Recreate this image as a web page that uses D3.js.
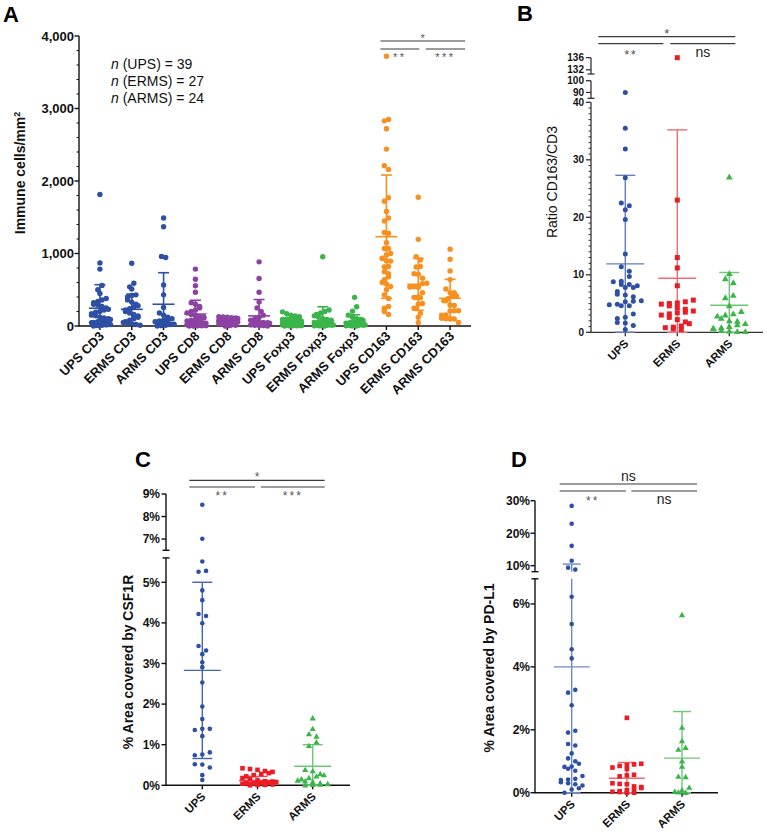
<!DOCTYPE html>
<html><head><meta charset="utf-8">
<script src="https://cdn.jsdelivr.net/npm/d3@7"></script>
<style>
body{margin:0;background:#fff;}
svg{display:block;font-family:"Liberation Sans",Arial,Helvetica,sans-serif;}
</style>
</head><body>
<svg id="c" width="767" height="833"></svg>
<script>
// ================= DATA =================
// Panel A – immune cells / mm²
const catsA = ["UPS CD3","ERMS CD3","ARMS CD3","UPS CD8","ERMS CD8","ARMS CD8","UPS Foxp3","ERMS Foxp3","ARMS Foxp3","UPS CD163","ERMS CD163","ARMS CD163"];
const upsCD3 = [1815,870,785,560,500,450,380,360,340,320,300,290,270,250,230,220,200,190,170,150,140,120,110,100,90,80,70,60,50,45,40,35,30,25,20,15,10,5,0];
const ermsCD3 = [865,590,540,510,430,420,400,360,330,300,280,260,240,220,200,180,160,140,120,100,80,60,50,40,30,20,10];
const armsCD3 = [1490,1370,960,945,565,430,255,180,150,120,100,90,80,70,60,50,40,35,30,25,20,10,5,0];
const upsCD8 = [785,645,555,465,320,300,270,250,220,200,180,160,150,130,120,110,100,90,80,70,60,55,50,45,40,35,30,25,20,18,15,12,10,8,5,3,2,1,0];
const ermsCD8 = [130,125,120,115,110,105,100,95,90,85,80,75,70,65,60,55,50,45,40,35,30,25,20,15,10,5,0];
const armsCD8 = [885,655,465,330,250,200,150,120,100,80,70,60,50,45,40,35,30,25,20,15,10,8,5,0];
const upsFoxp3 = [195,170,150,140,130,120,110,100,95,90,85,80,75,70,65,60,55,50,45,40,38,35,32,30,28,25,22,20,18,15,12,10,8,6,5,4,3,2,0];
const ermsFoxp3 = [955,220,200,180,160,140,120,100,90,80,70,60,50,45,40,35,30,25,20,15,12,10,8,5,3,2,0];
const armsFoxp3 = [395,265,205,150,120,100,90,80,70,60,50,40,35,30,25,20,15,12,10,8,5,3,2,0];
const upsCD163 = [3720,2850,2830,2720,2440,2210,2160,1770,1720,1580,1490,1450,1290,1280,1150,1070,1070,1000,980,935,930,900,895,820,815,750,720,680,640,600,580,545,500,430,380,270,245,200,160];
const ermsCD163 = [1775,1195,955,910,820,815,720,715,660,590,585,545,540,538,535,460,400,395,392,390,310,300,245,240,175,120,50];
const armsCD163 = [1060,920,760,640,510,460,458,415,412,378,350,348,290,282,212,210,208,152,150,106,100,97,95,50];
const meanA = [245,230,300,165,60,140,50,70,55,1232,575,382];
const sdA   = [325,210,435,190,40,225,45,195,100,850,358,262];
const ticksA = [0,1000,2000,3000,4000];
const nLines = [["UPS",39],["ERMS",27],["ARMS",24]];

// Panel B – ratio CD163/CD3
const groups = ["UPS","ERMS","ARMS"];
const ratioUPS = [90,35.5,31.9,26.9,22.5,22.0,21.3,19.6,13.6,11.4,10.6,9.7,8.9,8.8,8.3,8.3,8.1,7.8,7.8,7.1,6.6,6.5,6.2,5.5,5.4,5.3,4.9,4.8,4.6,4.6,3.2,2.6,2.4,1.7,1.6,1.2,0.5];
const ratioERMS = [136,23.0,13.0,11.2,8.1,5.6,5.3,5.1,5.0,4.9,4.6,4.3,4.0,3.7,3.5,3.4,3.2,3.0,2.6,2.2,1.8,1.5,1.1,0.9,0.8,0.6,0.5];
const ratioARMS = [27.0,10.2,9.3,8.6,6.4,6.0,4.6,3.6,3.2,3.0,2.8,2.4,2.0,1.9,1.5,1.3,1.0,0.8,0.7,0.6,0.3,0.2,0.1,0.1];
const meanB = [11.9,9.4,4.7];
const sdB   = [15.4,25.8,5.7];
const ticksB = [0,10,20,30,40,90,100,132,136];

// Panel C – % area covered by CSF1R
const csfUPS = [8.52,7.01,5.51,5.28,5.26,4.80,4.56,4.22,4.17,3.99,3.43,3.32,3.23,3.03,2.91,2.53,1.94,1.63,1.39,1.39,1.36,1.21,0.81,0.76,0.74,0.52,0.51,0.44,0.25,0.13];
const csfERMS = [0.42,0.40,0.38,0.35,0.33,0.30,0.28,0.25,0.22,0.18,0.15,0.12,0.10,0.09,0.08,0.07,0.06,0.05,0.05,0.04,0.03,0.03,0.02,0.02,0.01,0.01,0.00];
const csfARMS = [1.65,1.39,1.26,1.20,1.06,0.97,0.38,0.35,0.28,0.25,0.22,0.18,0.15,0.12,0.10,0.08,0.05,0.03,0.02,0.01,0.0];
const meanC = [2.83,0.12,0.47];
const sdC   = [2.17,0.10,0.53];
const ticksC = [0,1,2,3,4,5,7,8,9];

// Panel D – % area covered by PD-L1
const pdUPS = [28.4,22.9,16.1,11.5,9.4,8.8,6.23,5.36,4.56,4.27,3.27,3.18,2.78,1.97,1.91,1.55,1.50,1.25,1.09,1.00,0.92,0.83,0.82,0.76,0.70,0.53,0.44,0.42,0.40,0.33,0.30,0.27,0.23,0.14,0.10,0.0];
const pdERMS = [2.38,0.92,0.90,0.88,0.85,0.80,0.75,0.57,0.55,0.52,0.30,0.28,0.27,0.20,0.18,0.15,0.10,0.08,0.05,0.03,0.02,0.0,0.0];
const pdARMS = [5.65,2.07,1.64,1.43,1.37,1.00,0.83,0.51,0.50,0.16,0.08,0.03,0.01,0.0];
const meanD = [4.0,0.46,1.1];
const sdD   = [6.5,0.5,1.48];
const ticksD = [0,2,4,6,10,20,30];

// significance brackets: [label, from, to, level]
const sigA = [["*",9,11,0],["**",9,10,1],["***",10,11,1]];
const sigB = [["*",0,2,0],["**",0,1,1],["ns",1,2,1]];
const sigC = [["*",0,2,0],["**",0,1,1],["***",1,2,1]];
const sigD = [["ns",0,2,0],["**",0,1,1],["ns",1,2,1]];

// ================= DRAWING =================
const svg = d3.select("#c");
const blue="#2d4fa4", purple="#8d42a3", green="#3bb54a", orange="#f7901e", red="#ec1c24";

function swarm(vals, y, step, rowH, maxPer){
  const pts = vals.map((v,i)=>({v,i,y:y(v)})).sort((a,b)=>a.y-b.y||a.i-b.i);
  const rows=[]; let cur=null;
  for(const p of pts){
    if(!cur || p.y-cur.y0>=rowH || cur.pts.length>=maxPer){
      const overflow = cur && p.y-cur.y0<rowH;
      cur={y0:p.y,pts:[],shift: overflow && !cur.shift ? step/2 : 0};
      rows.push(cur);
    }
    cur.pts.push(p);
  }
  rows.forEach((r,ri)=>{
    const n=r.pts.length;
    r.pts.forEach((p,k)=>{const kk= ri%2 ? n-1-k : k; p.dx=(kk-(n-1)/2)*step + (n<maxPer?0:r.shift);});
  });
  return pts;
}

function marker(g, shape, color, size, x, y){
  if(shape==="circle") g.append("circle").attr("cx",x).attr("cy",y).attr("r",size).attr("fill",color);
  else if(shape==="square") g.append("rect").attr("x",x-size).attr("y",y-size).attr("width",2*size).attr("height",2*size).attr("fill",color);
  else g.append("path").attr("d",d3.symbol(d3.symbolTriangle, size*size*3.2)()).attr("transform",`translate(${x},${y+0.4})`).attr("fill",color);
}

function panel(o){
  const g=svg.append("g");
  const y=d3.scaleLinear().domain(o.yDomain).range(o.yRange);
  const x=d3.scaleBand().domain(o.cats).range(o.xRange);
  const cx=c=>x(c)+x.bandwidth()/2;
  const ac=o.axisColor, aw=o.axisW;
  const y0=y(0);
  // y axis segments
  o.segments.forEach(([lo,hi],si)=>{
    g.append("line").attr("x1",o.axisX).attr("x2",o.axisX).attr("y1",y(lo)).attr("y2",y(hi)).attr("stroke",ac).attr("stroke-width",aw);
    const ends=[];
    if(si>0) ends.push(lo);
    if(si<o.segments.length-1) ends.push(hi);
    ends.filter(v=>!o.ticks.includes(v)).forEach(v=>{
      g.append("line").attr("x1",o.axisX-3.5).attr("x2",o.axisX+3.5).attr("y1",y(v)).attr("y2",y(v)).attr("stroke",ac).attr("stroke-width",aw);
    });
  });
  // minor ticks
  (o.minor||[]).forEach(v=>{
    g.append("line").attr("x1",o.axisX-o.minorLen).attr("x2",o.axisX).attr("y1",y(v)).attr("y2",y(v)).attr("stroke",ac).attr("stroke-width",1);
  });
  // major ticks + labels
  o.ticks.forEach(v=>{
    g.append("line").attr("x1",o.axisX-o.tickLen).attr("x2",o.axisX).attr("y1",y(v)).attr("y2",y(v)).attr("stroke",ac).attr("stroke-width",aw);
    g.append("text").attr("x",o.labelX).attr("y",y(v)+o.tickFont*0.36).attr("text-anchor","end")
      .attr("font-size",o.tickFont).attr("font-weight","bold").attr("fill","#111").text(o.fmt(v));
  });
  // x axis
  g.append("line").attr("x1",o.axisX-aw/2).attr("x2",o.xEnd).attr("y1",y0).attr("y2",y0).attr("stroke",ac).attr("stroke-width",aw);
  o.cats.forEach(c=>{
    g.append("line").attr("x1",cx(c)).attr("x2",cx(c)).attr("y1",y0).attr("y2",y0+4).attr("stroke",ac).attr("stroke-width",aw);
    g.append("text").attr("transform",`translate(${cx(c)+o.xlabDx},${y0+o.xlabDy}) rotate(-45)`)
      .attr("text-anchor","end").attr("font-size",o.xFont).attr("font-weight","bold").attr("fill","#111").text(c);
  });
  // error bars
  o.cats.forEach((c,i)=>{
    const m=o.mean[i], s=o.sd[i], lo=Math.max(0,m-s), hi=m+s, col=o.barColor[i], X=cx(c);
    o.segments.forEach(([a,b])=>{
      const l=Math.max(a,lo), h=Math.min(b,hi);
      if(l<h) g.append("line").attr("x1",X).attr("x2",X).attr("y1",y(l)).attr("y2",y(h)).attr("stroke",col).attr("stroke-width",o.barW);
    });
    g.append("line").attr("x1",X-o.meanHalf).attr("x2",X+o.meanHalf).attr("y1",y(m)).attr("y2",y(m)).attr("stroke",col).attr("stroke-width",o.barW);
    [lo,hi].forEach(v=>g.append("line").attr("x1",X-o.capHalf).attr("x2",X+o.capHalf).attr("y1",y(v)).attr("y2",y(v)).attr("stroke",col).attr("stroke-width",o.barW));
  });
  // points
  o.cats.forEach((c,i)=>{
    const pts=swarm(o.values[i], y, o.step, o.rowH, o.maxPer);
    pts.forEach(p=>marker(g,o.shape[i],o.color[i],o.size,cx(c)+p.dx,p.y));
  });
  // y label
  const yl=g.append("text").attr("transform",`translate(${o.ylabX},${o.ylabY}) rotate(-90)`).attr("text-anchor","middle")
    .attr("font-size",o.ylabFont).attr("font-weight",o.ylabWeight).attr("fill","#111");
  o.ylab(yl);
  // significance
  o.sig.forEach(([lab,i,j,lev])=>{
    let x1,x2;
    if(lev===0){x1=cx(o.cats[i])+o.sL; x2=cx(o.cats[j])+o.sR;}
    else if(j===o.mid){x1=cx(o.cats[i])+o.sL; x2=cx(o.cats[j])+o.jL;}
    else {x1=cx(o.cats[i])+o.jR; x2=cx(o.cats[j])+o.sR;}
    const ly=o.sigY[lev];
    g.append("line").attr("x1",x1).attr("x2",x2).attr("y1",ly).attr("y2",ly).attr("stroke","#3a3a3a").attr("stroke-width",1.2);
    const isStar=lab.includes("*");
    let by;
    if(lev===0) by = isStar ? ly+1 : ly-3.5;
    else by = isStar ? ly+o.starBelow : ly+o.nsBelow;
    g.append("text").attr("x",(x1+x2)/2).attr("y",by).attr("text-anchor","middle")
      .attr("font-size",isStar?o.starFont:14).attr("letter-spacing",isStar&&lab.length>1?o.starSpace:0)
      .attr("fill",isStar?"#555":"#222").text(lab);
  });
  // panel letter
  g.append("text").attr("x",o.letter[1]).attr("y",o.letter[2]).attr("font-size",22).attr("font-weight","bold").attr("fill","#000").text(o.letter[0]);
  return g;
}

const colA=[blue,blue,blue,purple,purple,purple,green,green,green,orange,orange,orange];
// ---- Panel A ----
const gA = panel({
  cats:catsA, values:[upsCD3,ermsCD3,armsCD3,upsCD8,ermsCD8,armsCD8,upsFoxp3,ermsFoxp3,armsFoxp3,upsCD163,ermsCD163,armsCD163],
  mean:meanA, sd:sdA, color:colA, barColor:colA, shape:catsA.map(()=>"circle"), size:2.7,
  step:4.2, rowH:4.8, maxPer:5,
  yDomain:[0,4000], yRange:[326,36], segments:[[0,4000]], xRange:[84,466], axisX:79, xEnd:471,
  axisColor:"#111", axisW:1.4, ticks:ticksA, minor:d3.range(200,4000,200).filter(v=>v%1000), tickLen:4.5, minorLen:2.5,
  labelX:74, tickFont:13, fmt:d3.format(","), xFont:13, xlabDx:5, xlabDy:11,
  barW:1.6, meanHalf:11, capHalf:5.5,
  ylabX:25, ylabY:173, ylabFont:14, ylabWeight:"bold",
  ylab:t=>{t.append("tspan").text("Immune cells/mm"); t.append("tspan").attr("font-size",9).attr("dy",-5).text("2");},
  sig:sigA, mid:10, sL:-6, sR:15, jL:1, jR:7.5, sigY:[41,49], starBelow:12, nsBelow:13, starFont:11, starSpace:2.5,
  letter:["A",3,22]
});
// n texts
nLines.forEach(([name,n],k)=>{
  const t=gA.append("text").attr("x",111).attr("y",69+k*17).attr("font-size",14).attr("fill","#111");
  t.append("tspan").attr("font-style","italic").text("n");
  t.append("tspan").text(` (${name}) = ${n}`);
});

// ---- Panel B ----
panel({
  cats:groups, values:[ratioUPS,ratioERMS,ratioARMS], mean:meanB, sd:sdB,
  color:[blue,red,green], barColor:["#5f7cc3","#f36a73","#6cc776"], shape:["circle","square","triangle"], size:2.5,
  step:8, rowH:5, maxPer:5,
  yDomain:[0,40,85,100,130.6,136], yRange:[332.3,102.3,98.3,80.7,74,57.7], segments:[[0,40],[85,100],[130.6,136]],
  xRange:[599.3,755.3], axisX:591, xEnd:763, axisColor:"#333", axisW:1.3, ticks:ticksB,
  minor:d3.range(1,40).filter(v=>v%10), tickLen:5, minorLen:2.5,
  labelX:584, tickFont:10, fmt:d3.format("d"), xFont:11.5, xlabDx:4, xlabDy:12,
  barW:1.4, meanHalf:19, capHalf:10,
  ylabX:557, ylabY:182, ylabFont:14, ylabWeight:"normal", ylab:t=>t.text("Ratio CD163/CD3"),
  sig:sigB, mid:1, sL:-27, sR:6, jL:-14, jR:-7, sigY:[36.7,43.7], starBelow:15.5, nsBelow:13.5, starFont:13, starSpace:1.5,
  letter:["B",517,21]
});

// ---- Panel C ----
panel({
  cats:groups, values:[csfUPS,csfERMS,csfARMS], mean:meanC, sd:sdC,
  color:[blue,red,green], barColor:["#4464b4","#f0474f","#6cc776"], shape:["circle","square","triangle"], size:2.3,
  step:7.5, rowH:4.6, maxPer:5,
  yDomain:[0,5.6,6.5,9], yRange:[785.3,557.9,550.3,494], segments:[[0,5.6],[6.5,9]],
  xRange:[174.7,340.3], axisX:166, xEnd:350, axisColor:"#111", axisW:1.4, ticks:ticksC,
  tickLen:4.5, labelX:160, tickFont:12, fmt:v=>v+"%", xFont:11.5, xlabDx:4, xlabDy:12,
  barW:1.4, meanHalf:18.5, capHalf:10,
  ylabX:133, ylabY:662, ylabFont:14, ylabWeight:"bold", ylab:t=>t.text("% Area covered by CSF1R"),
  sig:sigC, mid:1, sL:-13, sR:12, jL:-2.5, jR:3.5, sigY:[480.3,487], starBelow:13, nsBelow:13, starFont:12, starSpace:2,
  letter:["C",135,467]
});

// ---- Panel D ----
panel({
  cats:groups, values:[pdUPS,pdERMS,pdARMS], mean:meanD, sd:sdD,
  color:[blue,red,green], barColor:["#6d89cb","#f3646d","#6cc776"], shape:["circle","square","triangle"], size:2.3,
  step:7.2, rowH:4.6, maxPer:5,
  yDomain:[0,6.8,8.15,30], yRange:[792.7,578.8,571.7,500.7], segments:[[0,6.8],[8.15,30]],
  xRange:[544.1,709.6], axisX:535, xEnd:718, axisColor:"#111", axisW:1.4, ticks:ticksD,
  tickLen:4.5, labelX:530, tickFont:12, fmt:v=>v+"%", xFont:11.5, xlabDx:4, xlabDy:12,
  barW:1.4, meanHalf:18, capHalf:9,
  ylabX:494, ylabY:668, ylabFont:14, ylabWeight:"bold", ylab:t=>t.text("% Area covered by PD-L1"),
  sig:sigD, mid:1, sL:-12, sR:15, jL:-1, jR:4.5, sigY:[484,491], starBelow:14, nsBelow:12.7, starFont:12, starSpace:2,
  letter:["D",511,467]
});
</script>
</body></html>
